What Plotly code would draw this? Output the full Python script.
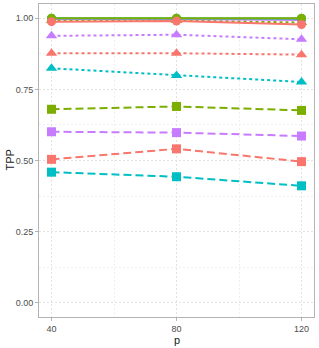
import plotly.graph_objects as go

p = [40, 80, 120]

# solid lines, circles
circ_green = [1.000, 1.000, 1.000]
circ_cyan = [1.000, 1.000, 0.999]
circ_purple = [0.997, 0.997, 0.994]
circ_red = [0.988, 0.990, 0.978]
# dotted lines, triangles
tri_green = [0.993, 0.992, 0.985]
tri_purple = [0.938, 0.942, 0.926]
tri_red = [0.877, 0.877, 0.872]
tri_cyan = [0.824, 0.799, 0.776]
# dashed lines, squares
sq_green = [0.680, 0.690, 0.676]
sq_purple = [0.601, 0.598, 0.586]
sq_red = [0.504, 0.541, 0.496]
sq_cyan = [0.459, 0.443, 0.411]

RED, GREEN, CYAN, PURPLE = "#F8766D", "#7CAE00", "#00BFC4", "#C77CFF"
FONT = "Liberation Sans, Arial, sans-serif"

fig = go.Figure()

def add(y, color, dash, symbol, size):
    fig.add_trace(go.Scatter(
        x=p, y=y, mode="lines+markers",
        line=dict(color=color, width=2, dash=dash),
        marker=dict(color=color, symbol=symbol, size=size, line=dict(width=0)),
        showlegend=False, hoverinfo="skip"))

for y, c in [(sq_green, GREEN), (sq_purple, PURPLE), (sq_red, RED), (sq_cyan, CYAN)]:
    add(y, c, "8px,4px", "square", 9)
for y, c in [(tri_purple, PURPLE), (tri_red, RED), (tri_cyan, CYAN), (tri_green, GREEN)]:
    add(y, c, "3px,3px", "triangle-up", 10)
for y, c in [(circ_purple, PURPLE), (circ_cyan, CYAN), (circ_green, GREEN), (circ_red, RED)]:
    add(y, c, "solid", "circle", 9)

axis_common = dict(
    showline=True, mirror=True, linecolor="#b3b3b3", linewidth=1,
    ticks="outside", ticklen=3, tickcolor="#b3b3b3", tickwidth=1,
    showgrid=True, gridcolor="#e2e2e2", gridwidth=1, griddash="2px,2px",
    zeroline=False, automargin=False,
    tickfont=dict(family=FONT, size=9, color="#4d4d4d"),
)

fig.update_xaxes(
    range=[36, 124], tickvals=[40, 80, 120], ticktext=["40", "80", "120"],
    minor=dict(tickvals=[60, 100], showgrid=True, gridcolor="#efefef", gridwidth=1, ticks=""),
    **axis_common)
fig.update_yaxes(
    range=[-0.05, 1.05], tickvals=[0, 0.25, 0.5, 0.75, 1.0],
    ticktext=["0.00", "0.25", "0.50", "0.75", "1.00"],
    minor=dict(tickvals=[0.125, 0.375, 0.625, 0.875], showgrid=True, gridcolor="#efefef", gridwidth=1, ticks=""),
    **axis_common)

fig.add_annotation(text="p", xref="paper", yref="paper", x=0.5, y=0,
                   yshift=-23, yanchor="middle", showarrow=False,
                   font=dict(family=FONT, size=11, color="#1a1a1a"))
fig.add_annotation(text="TPP", xref="paper", yref="paper", x=0, y=0.5,
                   xshift=-30, xanchor="center", textangle=-90, showarrow=False,
                   font=dict(family=FONT, size=11, color="#1a1a1a"))

fig.update_layout(
    width=319, height=348,
    margin=dict(l=39, r=5, t=4, b=31),
    paper_bgcolor="white", plot_bgcolor="white",
)

fig.write_html("out.html", config={"displayModeBar": False},
               post_script="document.body.style.margin='0';")
